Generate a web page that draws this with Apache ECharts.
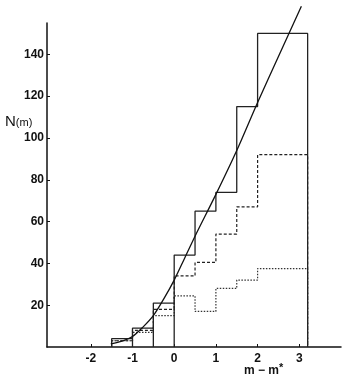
<!DOCTYPE html>
<html>
<head>
<meta charset="utf-8">
<script src="https://cdn.jsdelivr.net/npm/echarts@6/dist/echarts.min.js"></script>
<style>
  html, body { margin: 0; padding: 0; background: #fff; }
  #chart { width: 350px; height: 382px; }
</style>
</head>
<body>
<div id="chart"></div>
<script>
// bin edges in m - m*
const binEdges = [-1.5, -1, -0.5, 0, 0.5, 1, 1.5, 2, 3.2];
// histogram heights per bin
const totalCounts = [4, 9, 21, 44, 65, 74, 115, 150];
const dashedCounts = [3, 8, 18, 34, 40.5, 54, 67, 92];
const dottedCounts = [3, 7, 15, 24.5, 17, 28, 32, 37.5];
// fitted curve
const curveX = [-1.52, -1.25, -1, -0.75, -0.5, -0.25, 0, 0.25, 0.5, 1, 1.5, 2, 2.5, 3.05];
const curveY = [1.5, 2.8, 5, 9.5, 15, 23, 32, 42.5, 53, 73, 94, 117, 139, 163];
// ticks
const xTicks = [-2, -1, 0, 1, 2, 3];
const yTicks = [20, 40, 60, 80, 100, 120, 140];

// step outline; closedBins: bins drawn down to the baseline on their right edge
function stepPath(counts, closedBins) {
  const pts = [[binEdges[0], 0]];
  counts.forEach((v, i) => {
    pts.push([binEdges[i], v], [binEdges[i + 1], v]);
    if (i < closedBins) pts.push([binEdges[i + 1], 0]);
  });
  pts.push([binEdges[binEdges.length - 1], 0]);
  return pts;
}

const font = 'Liberation Sans';
const chart = echarts.init(document.getElementById('chart'));

chart.setOption({
  animation: false,
  grid: { left: 47, right: 9, top: 23, bottom: 35 },
  xAxis: {
    type: 'value',
    min: -3.05,
    max: 4,
    splitLine: { show: false },
    axisLine: { onZero: false, lineStyle: { color: '#111', width: 1.5 } },
    axisTick: { inside: true, length: 3, customValues: xTicks, lineStyle: { color: '#111' } },
    axisLabel: {
      customValues: xTicks,
      color: '#111', fontFamily: font, fontWeight: 'bold', fontSize: 12, margin: 6
    }
  },
  yAxis: {
    type: 'value',
    min: 0,
    max: 155,
    splitLine: { show: false },
    axisLine: { onZero: false, lineStyle: { color: '#111', width: 1.5 } },
    axisTick: { inside: true, length: 3, customValues: yTicks, lineStyle: { color: '#111' } },
    axisLabel: {
      customValues: yTicks,
      color: '#111', fontFamily: font, fontWeight: 'bold', fontSize: 12, margin: 3
    }
  },
  graphic: [
    {
      type: 'text', left: 5, top: 114,
      style: {
        text: '{a|N}{b|(m)}',
        rich: {
          a: { fontFamily: font, fontSize: 15, fill: '#111' },
          b: { fontFamily: font, fontSize: 11, fill: '#111', padding: [3, 0, 0, 0] }
        }
      }
    },
    {
      type: 'text', left: 244, top: 362,
      style: {
        text: '{a|m − m}{s|*}',
        rich: {
          a: { fontFamily: font, fontWeight: 'bold', fontSize: 12, fill: '#111' },
          s: { fontFamily: font, fontWeight: 'bold', fontSize: 11, fill: '#111', padding: [0, 0, 6, 0] }
        }
      }
    }
  ],
  series: [
    {
      type: 'line', data: stepPath(dottedCounts, 0), symbol: 'none',
      lineStyle: { color: '#333', width: 1.2, type: [1.5, 1.5] }
    },
    {
      type: 'line', data: stepPath(dashedCounts, 0), symbol: 'none',
      lineStyle: { color: '#222', width: 1.2, type: [3, 2] }
    },
    {
      type: 'line', data: stepPath(totalCounts, 3), symbol: 'none',
      lineStyle: { color: '#222', width: 1.3 }
    },
    {
      type: 'line', data: curveX.map((x, i) => [x, curveY[i]]), symbol: 'none',
      smooth: 0.3, clip: false,
      lineStyle: { color: '#111', width: 1.3 }
    }
  ]
});
</script>
</body>
</html>
